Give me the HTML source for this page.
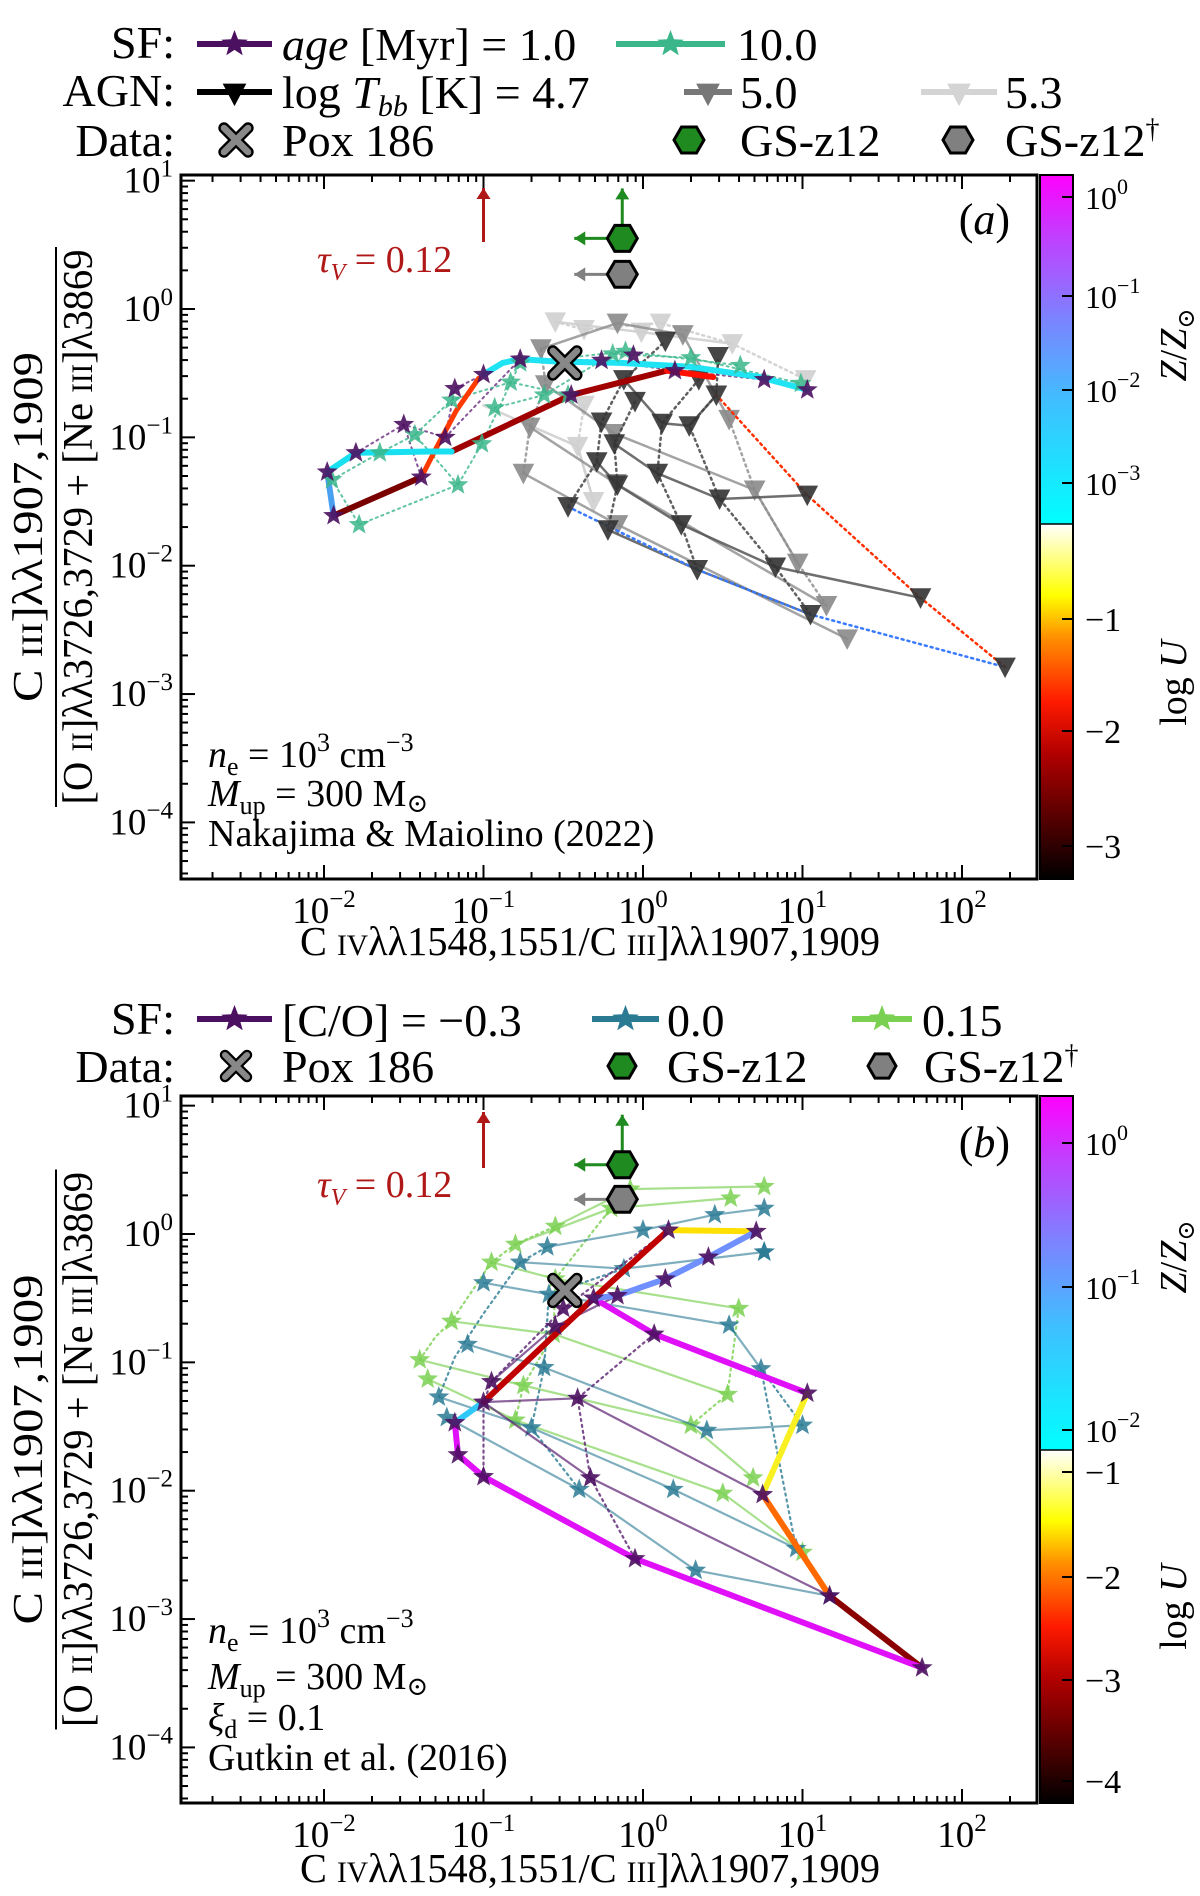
<!DOCTYPE html>
<html><head><meta charset="utf-8"><style>
html,body{margin:0;padding:0;background:#fff;}
svg{display:block;font-family:"Liberation Serif","DejaVu Serif",serif;}
</style></head><body>
<svg id="fig" width="1200" height="1896" viewBox="0 0 1200 1896" xmlns="http://www.w3.org/2000/svg">
<defs>
<linearGradient id="gz" x1="0" y1="1" x2="0" y2="0"><stop offset="0" stop-color="#00ffff"/><stop offset="0.35" stop-color="#3fbfff"/><stop offset="0.6" stop-color="#7f80ff"/><stop offset="0.82" stop-color="#c040ff"/><stop offset="1" stop-color="#ff00ff"/></linearGradient>
<linearGradient id="gu" x1="0" y1="1" x2="0" y2="0"><stop offset="0" stop-color="#000"/><stop offset="0.35" stop-color="#b00000"/><stop offset="0.5" stop-color="#ff1a00"/><stop offset="0.68" stop-color="#ff9000"/><stop offset="0.8" stop-color="#ffff00"/><stop offset="1" stop-color="#ffffff"/></linearGradient>
</defs>
<g id="legend-a" font-size="46"></g>
<g id="panel-a"></g>
<g id="panel-b"></g>
</svg>
<script>
// ---------- DATA (log10 values) ----------
const xTickExps = [-2, -1, 0, 1, 2];
const aYTickExps = [1, 0, -1, -2, -3, -4];
const bYTickExps = [1, 0, -1, -2, -3, -4];
// Panel a: SF age=1 Myr stars
const aAge1Stars = [[-1.98,-1.27],[-1.94,-1.61],[-1.80,-1.12],[-1.50,-0.90],[-1.39,-1.31],[-1.24,-1.00],[-1.18,-0.62],[-1.00,-0.51],[-0.77,-0.39],[-0.45,-0.67],[-0.26,-0.40],[-0.06,-0.36],[0.20,-0.48],[0.76,-0.55],[1.03,-0.63]];
const aAge10Stars = [[-1.95,-1.33],[-1.78,-1.68],[-1.16,-1.37],[-1.01,-1.05],[-1.65,-1.12],[-1.43,-0.98],[-1.20,-0.71],[-0.93,-0.77],[-0.83,-0.57],[-0.62,-0.67],[-0.47,-0.67],[-0.77,-0.42],[-0.19,-0.35],[-0.11,-0.33],[0.30,-0.38],[0.61,-0.44],[0.99,-0.58]];
const aThickZlow1 = [[-1.98,-1.27],[-1.80,-1.12],[-1.34,-1.11],[-1.20,-1.11]];
const aThickZmid = [[-1.98,-1.27],[-1.94,-1.61]];
const aThickZlow2 = [[-1.00,-0.51],[-0.88,-0.42],[-0.77,-0.39],[-0.54,-0.41],[-0.14,-0.42],[0.30,-0.45],[0.73,-0.53],[1.03,-0.63]];
const aThickUlow1 = [[-1.94,-1.61],[-1.39,-1.31]];
const aThickUmid1 = [[-1.39,-1.31],[-1.29,-1.07],[-1.17,-0.79],[-1.03,-0.54]];
const aThickUlow2 = [[-1.20,-1.11],[-0.45,-0.67],[0.15,-0.48]];
const aThickUmid2 = [[0.15,-0.48],[0.44,-0.53]];
const aThinAge1 = [[[-1.50,-0.90],[-1.39,-1.31]],[[-1.80,-1.12],[-1.50,-0.90],[-1.24,-1.00],[-1.18,-0.62],[-1.00,-0.51]],[[-1.24,-1.00],[-0.77,-0.39],[-0.26,-0.40],[0.20,-0.48],[0.76,-0.55]]];
const aThinAge10 = [[[-1.95,-1.33],[-1.78,-1.68]],[[-1.78,-1.68],[-1.16,-1.37],[-1.01,-1.05]],[[-1.95,-1.33],[-1.65,-1.12],[-1.43,-0.98],[-1.20,-0.71],[-0.83,-0.57],[-0.47,-0.67]],[[-1.16,-1.37],[-1.43,-0.98]],[[-0.93,-0.77],[-0.62,-0.67],[-0.19,-0.35],[0.30,-0.38],[0.99,-0.58]],[[-1.01,-1.05],[-0.77,-0.42],[-0.11,-0.33],[0.61,-0.44]]];
const aAgn47Pts = [[-0.47,-1.54],[-0.29,-1.19],[-0.26,-0.88],[-0.18,-1.05],[-0.16,-1.37],[-0.22,-1.72],[-0.12,-0.55],[-0.05,-0.72],[0.09,-1.28],[0.12,-0.89],[0.24,-1.68],[0.29,-0.91],[0.34,-2.03],[0.35,-0.55],[0.46,-0.67],[0.48,-1.48],[0.83,-2.01],[1.03,-1.45],[1.05,-2.38],[1.74,-2.25],[2.27,-2.79],[0.14,-0.25],[0.47,-0.37]];
const aAgn47Solid = [[[-0.29,-1.19],[-0.16,-1.37],[0.24,-1.68],[0.83,-2.01],[1.74,-2.25]],[[-0.18,-1.05],[0.09,-1.28],[0.48,-1.48],[1.03,-1.45]],[[-0.12,-0.55],[0.12,-0.89],[0.29,-0.91],[0.46,-0.67]],[[-0.22,-1.72],[0.34,-2.03],[1.05,-2.38]]];
const aAgn47Dotted = [[[-0.47,-1.54],[-0.29,-1.19],[-0.26,-0.88],[-0.12,-0.55],[0.14,-0.25]],[[-0.22,-1.72],[-0.16,-1.37],[-0.18,-1.05],[-0.05,-0.72]],[[0.34,-2.03],[0.24,-1.68],[0.09,-1.28],[0.12,-0.89],[0.35,-0.55]],[[1.05,-2.38],[0.83,-2.01],[0.48,-1.48],[0.29,-0.91],[0.46,-0.67],[0.47,-0.37]]];
const aAgnBlueDot = [[-0.47,-1.54],[0.34,-2.03],[1.05,-2.38],[2.27,-2.79]];
const aAgnRedDot = [[2.27,-2.79],[1.74,-2.25],[1.03,-1.45],[0.46,-0.67]];
const aAgn50Pts = [[-0.75,-1.28],[-0.71,-0.92],[-0.61,-0.59],[-0.64,-0.31],[-0.16,-0.11],[-0.18,-0.97],[-0.17,-1.36],[-0.16,-1.68],[0.54,-0.86],[0.70,-1.41],[0.97,-1.98],[1.15,-2.31],[1.28,-2.57],[0.25,-0.20]];
const aAgn50Solid = [[[-0.75,-1.28],[-0.16,-1.68],[1.28,-2.57]],[[-0.71,-0.92],[-0.17,-1.36],[1.15,-2.31]],[[-0.61,-0.59],[-0.18,-0.97],[0.70,-1.41],[0.97,-1.98]],[[-0.64,-0.31],[-0.16,-0.11],[0.25,-0.20],[0.54,-0.86]]];
const aAgn50Dotted = [[[-0.75,-1.28],[-0.71,-0.92],[-0.61,-0.59],[-0.64,-0.31]],[[0.54,-0.86],[0.70,-1.41],[0.97,-1.98],[1.15,-2.31]]];
const aAgn53Pts = [[-0.55,-0.10],[-0.37,-0.16],[-0.01,-0.18],[0.11,-0.11],[0.56,-0.27],[1.02,-0.55],[-0.41,-1.07],[-0.37,-0.75],[-0.31,-1.50]];
const aAgn53Solid = [[[-1.0,-0.75],[-0.41,-1.07],[-0.31,-1.50]],[[-0.55,-0.10],[-0.01,-0.18],[0.56,-0.27]]];
const aAgn53Dotted = [[[-0.55,-0.10],[-0.37,-0.16],[0.11,-0.11],[0.56,-0.27],[1.02,-0.55]],[[-0.37,-0.75],[-0.41,-1.07],[-0.31,-1.50]]];
const pox186 = [-0.49, -0.42];
const gsz12 = [-0.13, 0.55];
const gsz12dag = [-0.13, 0.27];
const tauArrowX = -1.0;
// Panel b
const bCOm03Stars = [[1.75,-3.38],[1.17,-2.82],[0.75,-2.03],[1.03,-1.24],[0.07,-0.78],[-0.31,-0.50],[-0.05,-2.53],[-1.0,-1.89],[-1.16,-1.72],[-1.18,-1.47],[-1.0,-1.31],[0.16,0.03],[0.71,0.02],[0.41,-0.18],[0.14,-0.35],[-0.16,-0.48],[-0.41,-1.28],[-0.33,-1.90],[-0.95,-1.15],[-0.55,-0.72],[-0.50,-0.58]];
const bThickMagenta1 = [[-0.31,-0.50],[0.07,-0.78],[1.03,-1.24]];
const bThickYellow = [[1.03,-1.24],[0.75,-2.03]];
const bThickOrange = [[0.75,-2.03],[1.17,-2.82]];
const bThickDarkRed = [[1.17,-2.82],[1.75,-3.38]];
const bThickMagenta2 = [[1.75,-3.38],[-0.05,-2.53],[-1.0,-1.89],[-1.16,-1.72],[-1.18,-1.47]];
const bThickCyan1 = [[-1.18,-1.47],[-1.0,-1.31]];
const bThickRedUp = [[-1.0,-1.31],[-0.31,-0.50],[0.16,0.03]];
const bThickYellow2 = [[0.16,0.03],[0.71,0.02]];
const bThickBlue = [[0.71,0.02],[0.41,-0.18],[0.14,-0.35],[-0.16,-0.48],[-0.31,-0.50]];
const bThinCOm03 = [[[-1.0,-1.31],[-0.41,-1.28],[0.75,-2.03]],[[-1.0,-1.31],[-0.33,-1.90],[1.17,-2.82]],[[-0.95,-1.15],[-0.55,-0.72],[-0.16,-0.48]]];
const bDotCOm03 = [[[-0.05,-2.53],[-0.33,-1.90],[-0.41,-1.28],[0.07,-0.78]],[[-1.0,-1.89],[-1.0,-1.31],[-0.95,-1.15],[-0.50,-0.58],[0.16,0.03]]];
const bCO0Lines = [[[-1.23,-1.43],[-0.40,-1.99],[0.33,-2.62],[1.17,-2.82]],[[-1.28,-1.27],[-0.70,-1.51],[0.19,-1.99],[0.96,-2.45]],[[-1.10,-0.86],[-0.62,-1.04],[0.40,-1.53],[1.00,-1.49]],[[-1.00,-0.38],[-0.59,-0.47],[0.54,-0.71],[0.74,-1.05]],[[-0.77,-0.22],[-0.12,-0.27],[0.76,-0.14],[0.76,-0.14]],[[-0.60,-0.10],[0.00,0.03],[0.45,0.15],[0.76,0.20]]];
const bCO0Dots = [[[-1.28,-1.27],[-1.18,-0.96],[-1.00,-0.62],[-0.77,-0.22],[-0.60,-0.10]],[[-0.40,-1.99],[-0.70,-1.51],[-0.62,-1.04],[-0.59,-0.47],[-0.12,-0.27]],[[0.96,-2.45],[0.74,-1.05],[1.00,-1.49]]];
const bCO15Lines = [[[-1.35,-1.13],[-0.80,-1.45],[0.50,-2.02],[1.00,-2.48]],[[-1.40,-0.98],[-0.75,-1.18],[0.30,-1.49],[0.69,-1.90]],[[-1.20,-0.68],[-0.56,-0.78],[0.53,-1.25]],[[-0.95,-0.22],[-0.55,-0.35],[0.60,-0.58]],[[-0.80,-0.08],[-0.20,0.20],[0.55,0.28]],[[-0.55,0.06],[-0.08,0.35],[0.76,0.37]]];
const bCO15Dots = [[[-1.40,-0.98],[-1.30,-0.80],[-1.20,-0.68],[-0.95,-0.22],[-0.80,-0.08],[-0.55,0.06]],[[-0.80,-1.45],[-0.75,-1.18],[-0.56,-0.78],[-0.55,-0.35],[-0.20,0.20],[-0.08,0.35]],[[0.30,-1.49],[0.53,-1.25],[0.60,-0.58]]];
const bPox186 = [-0.49, -0.44];
const bGsz12 = [-0.13, 0.54];
const bGsz12dag = [-0.13, 0.27];
const aZTicks = ["0","−1","−2","−3"];
const aUTicks = ["−1","−2","−3"];
const bZTicks = ["0","−1","−2"];
const bUTicks = ["−1","−2","−3","−4"];

// ---------- DRAWING ----------
const NS = "http://www.w3.org/2000/svg";
function el(tag, attrs, parent){const e=document.createElementNS(NS,tag);for(const k in attrs)e.setAttribute(k,attrs[k]);if(parent)parent.appendChild(e);return e;}
const X0 = 181, X1 = 1037;
function xs(lx){return 324 + (lx + 2) * 159.5;}
function makeY(zeroY){return ly => zeroY - ly * 128.35;}
function pathD(pts, ys){return pts.map((p,i)=>(i?'L':'M')+xs(p[0]).toFixed(1)+','+ys(p[1]).toFixed(1)).join(' ');}
function line(g, pts, ys, stroke, w, dash, op, name){
  const p = el('path',{d:pathD(pts,ys),fill:'none',stroke:stroke,'stroke-width':w,'stroke-linejoin':'round','stroke-linecap':'round',opacity:op||1},g);
  if(dash) p.setAttribute('stroke-dasharray',dash);
  
  
  return p;
}
function starPts(cx,cy,r){let s=[];for(let i=0;i<10;i++){const a=-Math.PI/2+i*Math.PI/5;const rr=i%2?r*0.42:r;s.push((cx+rr*Math.cos(a)).toFixed(1)+','+(cy+rr*Math.sin(a)).toFixed(1));}return s.join(' ');}
function star(g,cx,cy,r,fill,op,name){const s=el('polygon',{points:starPts(cx,cy,r),fill:fill,opacity:op||1},g);
  
  
  return s;}
function tri(g,cx,cy,r,fill,op,name){const t=el('polygon',{points:`${cx-r},${cy-r*0.9} ${cx+r},${cy-r*0.9} ${cx},${cy+r*1.0}`,fill:fill,opacity:op||1,stroke:fill,'stroke-width':1},g);
  
  
  return t;}
function hexagon(g,cx,cy,r,fill,name){let p=[];for(let i=0;i<6;i++){const a=i*Math.PI/3;p.push((cx+r*Math.cos(a)).toFixed(1)+','+(cy+r*Math.sin(a)).toFixed(1));}
  const h=el('polygon',{points:p.join(' '),fill:fill,stroke:'#000','stroke-width':3},g);
  
  
  return h;}
function xMark(g,cx,cy,r,name){const gg=el('g',{},g);
  
  
  el('path',{d:`M${cx-r},${cy-r}L${cx+r},${cy+r}M${cx-r},${cy+r}L${cx+r},${cy-r}`,stroke:'#000','stroke-width':r*0.95,'stroke-linecap':'round'},gg);
  el('path',{d:`M${cx-r},${cy-r}L${cx+r},${cy+r}M${cx-r},${cy+r}L${cx+r},${cy-r}`,stroke:'#888','stroke-width':r*0.55,'stroke-linecap':'round'},gg);
  return gg;}
function text(g,x,y,str,size,anchor,fill,name){const t=el('text',{x:x,y:y,'font-size':size,'text-anchor':anchor||'start',fill:fill||'#000'},g);t.innerHTML=str;
  
  
  return t;}
function arrow(g,x1,y1,x2,y2,color,name){const gg=el('g',{},g);
  
  
  el('line',{x1:x1,y1:y1,x2:x2,y2:y2,stroke:color,'stroke-width':3},gg);
  const ang=Math.atan2(y2-y1,x2-x1),h=11,w=7;
  const bx=x2-h*Math.cos(ang),by=y2-h*Math.sin(ang);
  el('polygon',{points:`${x2},${y2} ${bx+w*Math.sin(ang)},${by-w*Math.cos(ang)} ${bx-w*Math.sin(ang)},${by+w*Math.cos(ang)}`,fill:color},gg);
  return gg;}

function axes(g, top, bottom, zeroY, yExps, cbSplit, zTicks, uTicks, zTickYs, uTickYs, zLabelY, uLabelY, xlabelY){
  const ys = makeY(zeroY);
  const frame = el('rect',{x:X0,y:top,width:X1-X0,height:bottom-top,fill:'none',stroke:'#000','stroke-width':3},g);
  
  
  for(let d=-3; d<=2; d++){
    for(let m=1;m<10;m++){
      const lx=d+Math.log10(m); const x=xs(lx);
      if(x<X0+1||x>X1-1) continue;
      const L = m===1?14:7;
      el('line',{x1:x,y1:bottom,x2:x,y2:bottom-L,stroke:'#000','stroke-width':2},g);
      el('line',{x1:x,y1:top,x2:x,y2:top+L,stroke:'#000','stroke-width':2},g);
    }
  }
  xTickExps.forEach(e=>{text(g,xs(e),bottom+44,`10<tspan font-size="25" dy="-16">${e<0?'−'+(-e):e}</tspan>`,37,'middle','#000','x-tick-label');});
  for(let d=-5; d<=1; d++){
    for(let m=1;m<10;m++){
      const ly=d+Math.log10(m); const y=ys(ly);
      if(y<top+1||y>bottom-1) continue;
      const L = m===1?14:7;
      el('line',{x1:X0,y1:y,x2:X0+L,y2:y,stroke:'#000','stroke-width':2},g);
    }
  }
  yExps.forEach(e=>{text(g,173,ys(e)+12,`10<tspan font-size="25" dy="-16">${e<0?'−'+(-e):e}</tspan>`,37,'end','#000','y-tick-label');});
  const cz=el('rect',{x:1040,y:top,width:33,height:cbSplit-top,fill:'url(#gz)'},g);
  
  const cu=el('rect',{x:1040,y:cbSplit,width:33,height:bottom-cbSplit,fill:'url(#gu)'},g);
  
  el('rect',{x:1040,y:top,width:33,height:bottom-top,fill:'none',stroke:'#000','stroke-width':2},g);
  el('line',{x1:1040,y1:cbSplit,x2:1073,y2:cbSplit,stroke:'#000','stroke-width':1.5},g);
  zTicks.forEach((t,i)=>{const y=zTickYs[i];el('line',{x1:1062,y1:y,x2:1073,y2:y,stroke:'#000','stroke-width':2},g);
    text(g,1085,y+12,`10<tspan font-size="22" dy="-15">${t}</tspan>`,32,'start','#000','colorbar-z-tick');});
  uTicks.forEach((t,i)=>{const y=uTickYs[i];el('line',{x1:1062,y1:y,x2:1073,y2:y,stroke:'#000','stroke-width':2},g);
    text(g,1085,y+12,t,34,'start','#000','colorbar-u-tick');});
  const zl=text(g,0,0,'<tspan font-style="italic">Z</tspan>/<tspan font-style="italic">Z</tspan><tspan font-size="24" dy="8">⊙</tspan>',38,'middle','#000','colorbar-z-label');
  zl.setAttribute('transform',`translate(1186,${zLabelY}) rotate(-90)`);
  const ul=text(g,0,0,'log <tspan font-style="italic">U</tspan>',38,'middle','#000','colorbar-u-label');
  ul.setAttribute('transform',`translate(1186,${uLabelY}) rotate(-90)`);
  const xt=text(g,590,xlabelY,'C <tspan font-size="30">IV</tspan>λλ1548,1551/C <tspan font-size="30">III</tspan>]λλ1907,1909',41,'middle','#000','x-axis-title');
  xt.setAttribute('textLength','580');
  xt.setAttribute('lengthAdjust','spacingAndGlyphs');
  const cy=(top+bottom)/2;
  const yl=el('g',{transform:`translate(0,${cy}) rotate(-90)`},g);
  
  const nt=text(yl,0,42,'C <tspan font-size="30">III</tspan>]λλ1907,1909',42,'middle','#000','y-title-numerator');
  nt.setAttribute('textLength','350');nt.setAttribute('lengthAdjust','spacingAndGlyphs');
  el('line',{x1:-280,y1:56,x2:280,y2:56,stroke:'#000','stroke-width':2},yl);
  const dt=text(yl,0,92,'[O <tspan font-size="30">II</tspan>]λλ3726,3729 + [Ne <tspan font-size="30">III</tspan>]λ3869',42,'middle','#000','y-title-denominator');
  dt.setAttribute('textLength','555');dt.setAttribute('lengthAdjust','spacingAndGlyphs');
  return ys;
}

// Legends
const L = document.getElementById('legend-a');
function legLine(g,x1,x2,y,color,mark,name){
  const gg=el('g',{},g);
  
  
  el('line',{x1:x1,y1:y,x2:x2,y2:y,stroke:color,'stroke-width':6},gg);
  if(mark==='star') star(gg,(x1+x2)/2,y,14,color,1,'legend-star');
  else tri(gg,(x1+x2)/2,y+2,11,color,1,'legend-triangle');
}
text(L,175,58,'SF:',46,'end','#000','legend-sf-label');
legLine(L,197,272,44,'#4b1060','star','legend-age-1');
text(L,282,60,'<tspan font-style="italic">age</tspan> [Myr] = 1.0',46,'start','#000','legend-age-1-text');
legLine(L,616,725,44,'#3ab68a','star','legend-age-10');
text(L,737,60,'10.0',46,'start','#000','legend-age-10-text');
text(L,175,106,'AGN:',46,'end','#000','legend-agn-label');
legLine(L,197,272,92,'#000','tri','legend-tbb-47');
text(L,282,108,'log <tspan font-style="italic">T<tspan font-size="30" dy="8">bb</tspan></tspan><tspan dy="-8"> [K] = 4.7</tspan>',46,'start','#000','legend-tbb-47-text');
legLine(L,684,732,92,'#777','tri','legend-tbb-50');
text(L,740,108,'5.0',46,'start','#000','legend-tbb-50-text');
legLine(L,921,997,92,'#d4d4d4','tri','legend-tbb-53');
text(L,1005,108,'5.3',46,'start','#000','legend-tbb-53-text');
text(L,175,156,'Data:',46,'end','#000','legend-data-label');
xMark(L,236,140,12,'legend-pox186');
text(L,282,156,'Pox 186',46,'start','#000','legend-pox186-text');
hexagon(L,689,140,15,'#1f8a1f','legend-gsz12');
text(L,740,156,'GS-z12',46,'start','#000','legend-gsz12-text');
hexagon(L,958,140,15,'#808080','legend-gsz12-dag');
text(L,1005,156,'GS-z12<tspan font-size="28" dy="-18">†</tspan>',46,'start','#000','legend-gsz12-dag-text');

const LB = el('g',{},document.getElementById('fig'));


text(LB,175,1034,'SF:',46,'end','#000','legend-b-sf-label');
legLine(LB,197,272,1019,'#4b1060','star','legend-co-m03');
text(LB,282,1036,'[C/O] = −0.3',46,'start','#000','legend-co-m03-text');
legLine(LB,592,659,1019,'#2a7a94','star','legend-co-0');
text(LB,667,1036,'0.0',46,'start','#000','legend-co-0-text');
legLine(LB,852,912,1019,'#7ad050','star','legend-co-015');
text(LB,922,1036,'0.15',46,'start','#000','legend-co-015-text');
text(LB,175,1082,'Data:',46,'end','#000','legend-b-data-label');
xMark(LB,236,1066,11,'legend-b-pox186');
text(LB,282,1082,'Pox 186',46,'start','#000','legend-b-pox186-text');
hexagon(LB,622,1066,14,'#1f8a1f','legend-b-gsz12');
text(LB,667,1082,'GS-z12',46,'start','#000','legend-b-gsz12-text');
hexagon(LB,882,1066,14,'#808080','legend-b-gsz12-dag');
text(LB,924,1082,'GS-z12<tspan font-size="28" dy="-18">†</tspan>',46,'start','#000','legend-b-gsz12-dag-text');

// ---------- Panel a ----------
const GA = document.getElementById('panel-a');
const ya = axes(GA,175,879,309,aYTickExps,524,aZTicks,aUTicks,[197,296,390,483],[619,731,846],345,683,955);
aAgn53Solid.forEach(l=>line(GA,l,ya,'#cfcfcf',2.5,null,0.9,'agn-53-line'));
aAgn53Dotted.forEach(l=>line(GA,l,ya,'#cfcfcf',2.5,'2,4',0.9,'agn-53-dotted'));
aAgn53Pts.forEach(p=>tri(GA,xs(p[0]),ya(p[1]),10,'#d0d0d0',0.9,'agn-53-marker'));
aAgn50Solid.forEach(l=>line(GA,l,ya,'#8c8c8c',2.5,null,0.8,'agn-50-line'));
aAgn50Dotted.forEach(l=>line(GA,l,ya,'#8c8c8c',2.5,'2,4',0.8,'agn-50-dotted'));
aAgn50Pts.forEach(p=>tri(GA,xs(p[0]),ya(p[1]),10,'#8a8a8a',0.9,'agn-50-marker'));
aAgn47Solid.forEach(l=>line(GA,l,ya,'#555',2.5,null,0.85,'agn-47-line'));
aAgn47Dotted.forEach(l=>line(GA,l,ya,'#444',2.5,'2,4',0.85,'agn-47-dotted'));
line(GA,aAgnBlueDot,ya,'#3a7bff',2.5,'2,4',1,'agn-47-lowZ-dotted');
line(GA,aAgnRedDot,ya,'#ff3000',2.5,'2,4',1,'agn-47-highU-dotted');
aAgn47Pts.forEach(p=>tri(GA,xs(p[0]),ya(p[1]),10,'#333',0.9,'agn-47-marker'));
aThinAge1.forEach(l=>line(GA,l,ya,'#6a2a80',2,'2,4',0.8,'sf-age1-thin'));
aThinAge10.forEach(l=>line(GA,l,ya,'#3ab68a',2,'2,4',0.8,'sf-age10-thin'));
line(GA,aThickUlow1,ya,'#7a0000',6,null,1,'sf-logU-low-track');
line(GA,aThickUmid1,ya,'#ff3a00',5,null,1,'sf-logU-mid-track');
line(GA,aThickUlow2,ya,'#a00000',6,null,1,'sf-logU-low-track-2');
line(GA,aThickUmid2,ya,'#ff1000',6,null,1,'sf-logU-mid-track-2');
line(GA,aThickZmid,ya,'#4aa0f0',6,null,1,'sf-Z-mid-track');
line(GA,aThickZlow1,ya,'#18e0f0',6,null,1,'sf-Z-low-track');
line(GA,aThickZlow2,ya,'#20e4f4',6,null,1,'sf-Z-low-track-2');
aAge10Stars.forEach(p=>star(GA,xs(p[0]),ya(p[1]),11,'#3ab68a',0.85,'sf-age10-star'));
aAge1Stars.forEach(p=>star(GA,xs(p[0]),ya(p[1]),11,'#4b1060',0.9,'sf-age1-star'));
xMark(GA,xs(pox186[0]),ya(pox186[1]),12,'pox186-marker');
arrow(GA,xs(gsz12[0]),ya(gsz12[1]),xs(gsz12[0]),ya(gsz12[1])-50,'#1f8a1f','gsz12-upper-arrow');
arrow(GA,xs(gsz12[0]),ya(gsz12[1]),xs(gsz12[0])-48,ya(gsz12[1]),'#1f8a1f','gsz12-left-arrow');
arrow(GA,xs(gsz12dag[0]),ya(gsz12dag[1]),xs(gsz12dag[0])-48,ya(gsz12dag[1]),'#808080','gsz12dag-left-arrow');
hexagon(GA,xs(gsz12[0]),ya(gsz12[1]),15,'#1f8a1f','gsz12-marker');
hexagon(GA,xs(gsz12dag[0]),ya(gsz12dag[1]),15,'#808080','gsz12dag-marker');
arrow(GA,xs(tauArrowX),242,xs(tauArrowX),188,'#b01818','tau-v-arrow');
text(GA,317,272,'<tspan font-style="italic">τ<tspan font-size="24" dy="8">V</tspan></tspan><tspan dy="-8"> = 0.12</tspan>',38,'start','#b01818','tau-v-label');
text(GA,1010,234,'(<tspan font-style="italic">a</tspan>)',44,'end','#000','panel-a-label');
text(GA,208,767,'<tspan font-style="italic">n</tspan><tspan font-size="26" dy="8">e</tspan><tspan dy="-8">    = 10</tspan><tspan font-size="26" dy="-16">3</tspan><tspan dy="16"> cm</tspan><tspan font-size="26" dy="-16">−3</tspan>',38,'start','#000','ne-annotation');
text(GA,208,806,'<tspan font-style="italic">M</tspan><tspan font-size="26" dy="8">up</tspan><tspan dy="-8"> = 300 M</tspan><tspan font-size="26" dy="6">⊙</tspan>',38,'start','#000','mup-annotation');
text(GA,208,846,'Nakajima &amp; Maiolino (2022)',38,'start','#000','model-reference');

// ---------- Panel b ----------
const GB = document.getElementById('panel-b');
const yb = axes(GB,1096,1803,1234,bYTickExps,1450,bZTicks,bUTicks,[1143,1287,1430],[1472,1577,1680,1781],1257,1607,1882);
bCO15Lines.forEach(l=>line(GB,l,yb,'#7ad050',2.2,null,0.65,'sf-co015-line'));
bCO15Dots.forEach(l=>line(GB,l,yb,'#7ad050',2.2,'2,4',0.8,'sf-co015-dotted'));
bCO15Lines.forEach(l=>l.forEach(p=>star(GB,xs(p[0]),yb(p[1]),11,'#7ad050',0.85,'sf-co015-star')));
bCO0Lines.forEach(l=>line(GB,l,yb,'#2a7a94',2.2,null,0.6,'sf-co0-line'));
bCO0Dots.forEach(l=>line(GB,l,yb,'#2a7a94',2.2,'2,4',0.8,'sf-co0-dotted'));
bCO0Lines.forEach(l=>l.forEach(p=>star(GB,xs(p[0]),yb(p[1]),11,'#2a7a94',0.85,'sf-co0-star')));
bThinCOm03.forEach(l=>line(GB,l,yb,'#5a2070',2.2,null,0.7,'sf-com03-line'));
bDotCOm03.forEach(l=>line(GB,l,yb,'#5a2070',2.2,'2,4',0.8,'sf-com03-dotted'));
line(GB,bThickMagenta1,yb,'#e010f8',6,null,1,'sf-Z-high-track');
line(GB,bThickYellow,yb,'#f8f020',6,null,1,'sf-logU-high-track');
line(GB,bThickOrange,yb,'#ff6a00',6,null,1,'sf-logU-orange-track');
line(GB,bThickDarkRed,yb,'#8a0000',6,null,1,'sf-logU-low-track');
line(GB,bThickMagenta2,yb,'#e010f8',6,null,1,'sf-Z-high-track-2');
line(GB,bThickCyan1,yb,'#30c8f8',6,null,1,'sf-Z-low-track');
line(GB,bThickRedUp,yb,'#c00000',6,null,1,'sf-logU-red-track');
line(GB,bThickYellow2,yb,'#ffe000',6,null,1,'sf-logU-yellow-track');
line(GB,bThickBlue,yb,'#7090ff',6,null,1,'sf-Z-mid-track');
bCOm03Stars.forEach(p=>star(GB,xs(p[0]),yb(p[1]),11,'#4b1060',0.9,'sf-com03-star'));
xMark(GB,xs(bPox186[0]),yb(bPox186[1]),12,'b-pox186-marker');
arrow(GB,xs(bGsz12[0]),yb(bGsz12[1]),xs(bGsz12[0]),yb(bGsz12[1])-50,'#1f8a1f','b-gsz12-upper-arrow');
arrow(GB,xs(bGsz12[0]),yb(bGsz12[1]),xs(bGsz12[0])-48,yb(bGsz12[1]),'#1f8a1f','b-gsz12-left-arrow');
arrow(GB,xs(bGsz12dag[0]),yb(bGsz12dag[1]),xs(bGsz12dag[0])-48,yb(bGsz12dag[1]),'#808080','b-gsz12dag-left-arrow');
hexagon(GB,xs(bGsz12[0]),yb(bGsz12[1]),15,'#1f8a1f','b-gsz12-marker');
hexagon(GB,xs(bGsz12dag[0]),yb(bGsz12dag[1]),15,'#808080','b-gsz12dag-marker');
arrow(GB,xs(tauArrowX),1168,xs(tauArrowX),1112,'#b01818','b-tau-v-arrow');
text(GB,317,1197,'<tspan font-style="italic">τ<tspan font-size="24" dy="8">V</tspan></tspan><tspan dy="-8"> = 0.12</tspan>',38,'start','#b01818','b-tau-v-label');
text(GB,1010,1157,'(<tspan font-style="italic">b</tspan>)',44,'end','#000','panel-b-label');
text(GB,208,1643,'<tspan font-style="italic">n</tspan><tspan font-size="26" dy="8">e</tspan><tspan dy="-8">    = 10</tspan><tspan font-size="26" dy="-16">3</tspan><tspan dy="16"> cm</tspan><tspan font-size="26" dy="-16">−3</tspan>',38,'start','#000','b-ne-annotation');
text(GB,208,1689,'<tspan font-style="italic">M</tspan><tspan font-size="26" dy="8">up</tspan><tspan dy="-8"> = 300 M</tspan><tspan font-size="26" dy="6">⊙</tspan>',38,'start','#000','b-mup-annotation');
text(GB,208,1730,'<tspan font-style="italic">ξ</tspan><tspan font-size="26" dy="8">d</tspan><tspan dy="-8">    = 0.1</tspan>',38,'start','#000','xi-annotation');
text(GB,208,1770,'Gutkin et al. (2016)',38,'start','#000','b-model-reference');
</script>
</body></html>
